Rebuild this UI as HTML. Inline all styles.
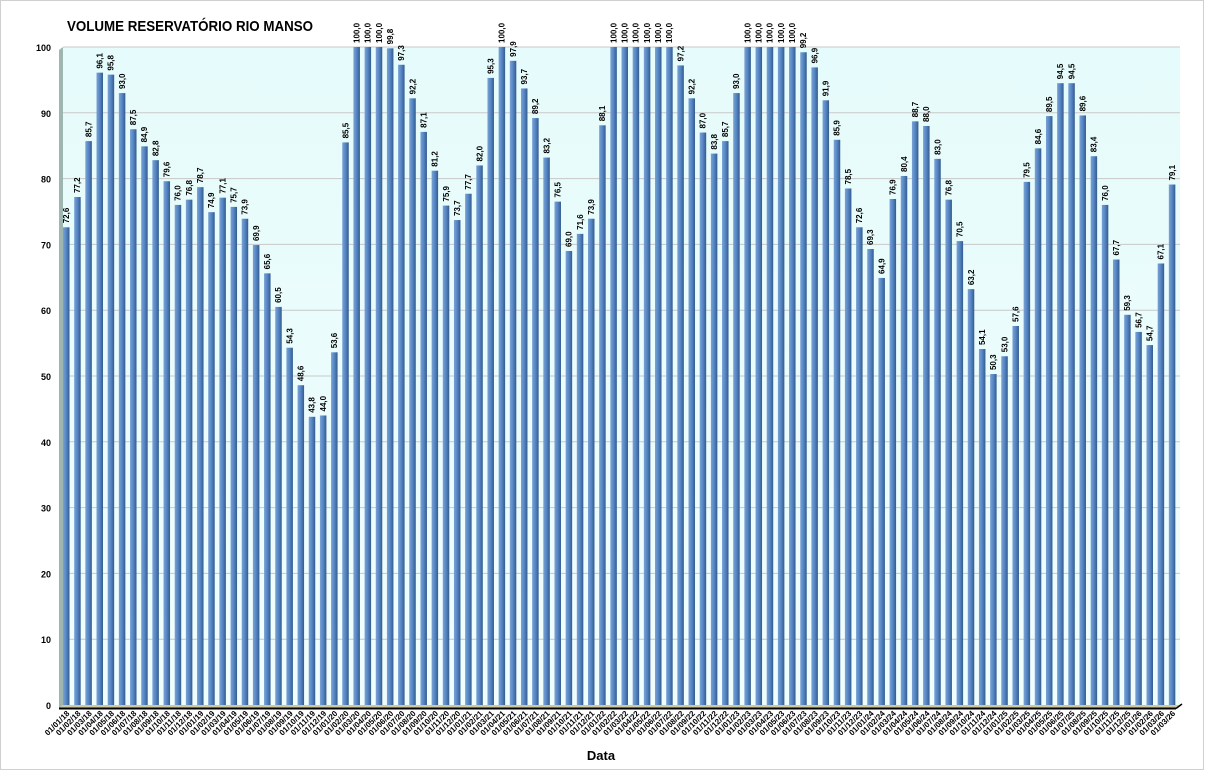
<!DOCTYPE html>
<html><head><meta charset="utf-8"><style>
html,body{margin:0;padding:0;background:#fff;}
svg{display:block;font-family:"Liberation Sans",sans-serif;}
</style></head><body>
<svg id="s" width="1205" height="771" xmlns="http://www.w3.org/2000/svg">
<defs>
<linearGradient id="bg" x1="0" y1="0" x2="0" y2="1"><stop offset="0" stop-color="#e6fbfb"/><stop offset="1" stop-color="#f0fdfd"/></linearGradient>
<linearGradient id="bar" x1="0" y1="0" x2="1" y2="0"><stop offset="0" stop-color="#7aa3d6"/><stop offset="0.5" stop-color="#5585c4"/><stop offset="1" stop-color="#345b8d"/></linearGradient>
</defs>
<rect x="0.5" y="0.5" width="1203" height="769" fill="#fff" stroke="#d0d0d0"/>
<rect x="63" y="47" width="1117" height="658" fill="url(#bg)"/>
<polygon points="59,50 63,47 63,705 59,708" fill="#9fb5b0"/>
<polygon points="59,708 63,705 1180,705 1176,708" fill="#cfc9a0"/>
<line x1="59" y1="708.5" x2="1176" y2="708.5" stroke="#000" stroke-width="2"/>
<line x1="1176" y1="708.5" x2="1182" y2="704" stroke="#000" stroke-width="1.5"/>
<text x="67" y="31" font-size="15" font-weight="bold" fill="#000" textLength="246" lengthAdjust="spacingAndGlyphs">VOLUME RESERVATÓRIO RIO MANSO</text>
<text x="601" y="760" font-size="13" font-weight="bold" text-anchor="middle">Data</text>
<g id="g"></g>
</svg>
<script>
var v=[72.6,77.2,85.7,96.1,95.8,93.0,87.5,84.9,82.8,79.6,76.0,76.8,78.7,74.9,77.1,75.7,73.9,69.9,65.6,60.5,54.3,48.6,43.8,44.0,53.6,85.5,100,100,100,99.8,97.3,92.2,87.1,81.2,75.9,73.7,77.7,82.0,95.3,100,97.9,93.7,89.2,83.2,76.5,69.0,71.6,73.9,88.1,100,100,100,100,100,100,97.2,92.2,87.0,83.8,85.7,93.0,100,100,100,100,100,99.2,96.9,91.9,85.9,78.5,72.6,69.3,64.9,76.9,80.4,88.7,88.0,83.0,76.8,70.5,63.2,54.1,50.3,53.0,57.6,79.5,84.6,89.5,94.5,94.5,89.6,83.4,76.0,67.7,59.3,56.7,54.7,67.1,79.1];
var h='';
for(var i=0;i<=10;i++){var y=705-i*65.8;if(i>0)h+='<line x1="63" y1="'+y+'" x2="1180" y2="'+y+'" stroke="#c8c8c8"/>';h+='<text x="51" y="'+(y+4)+'" font-size="9" font-weight="bold" text-anchor="end">'+(i*10)+'</text>';}
for(var i=0;i<v.length;i++){var x=66+i*11.17;var t=705-v[i]*6.58;
h+='<rect x="'+(x-3)+'" y="'+t+'" width="6.5" height="'+(705-t)+'" fill="url(#bar)"/>';
h+='<text transform="translate('+(x+3)+','+(t-4)+') rotate(-90)" font-size="8" font-weight="bold">'+v[i].toFixed(1).replace('.',',')+'</text>';
var m=i%12+1,yr=18+Math.floor(i/12);if(i==99){m=3;yr=26;}
var lab='01/'+(m<10?'0':'')+m+'/'+yr;
h+='<text transform="translate('+(x+4)+',714) rotate(-45)" font-size="8" font-weight="bold" text-anchor="end">'+lab+'</text>';}
document.getElementById('g').innerHTML=h;
</script>
</body></html>
